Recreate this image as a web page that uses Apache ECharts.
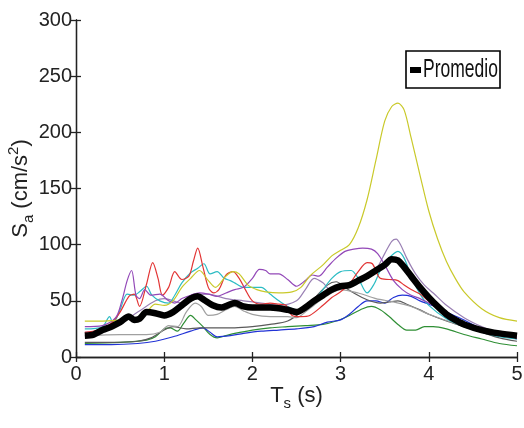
<!DOCTYPE html>
<html>
<head>
<meta charset="utf-8">
<script src="https://cdn.jsdelivr.net/npm/echarts@6/dist/echarts.min.js"></script>
<style>
  html, body { margin: 0; padding: 0; background: #fff; }
  #chart { width: 524px; height: 428px; }
</style>
</head>
<body>
<div id="chart"></div>
<script>
// Spectral acceleration Sa (cm/s^2) against period Ts (s): individual records and their mean.
const xTicks = [0, 1, 2, 3, 4, 5];
const yTicks = [0, 50, 100, 150, 200, 250, 300];

const recYellow = [[0.1,32],[0.3,32],[0.5,33],[0.6,36],[0.7,34],[0.8,40],[0.9,47],[1.0,46],[1.1,50],[1.2,62],[1.3,70],[1.4,77],[1.5,68],[1.58,62],[1.7,72],[1.78,76],[1.85,74],[1.95,64],[2.05,60],[2.15,58],[2.3,57],[2.45,58],[2.55,62],[2.65,72],[2.8,82],[2.9,90],[3.0,95],[3.1,100],[3.2,115],[3.3,140],[3.4,175],[3.5,210],[3.58,223],[3.65,226],[3.72,220],[3.8,195],[3.9,162],[4.0,130],[4.1,105],[4.2,85],[4.3,70],[4.4,58],[4.6,43],[4.8,35],[5.0,32]];
const recPurple = [[0.1,27],[0.3,28],[0.45,35],[0.52,50],[0.58,68],[0.63,77],[0.68,55],[0.72,52],[0.78,60],[0.85,55],[0.95,56],[1.05,50],[1.12,48],[1.2,52],[1.3,55],[1.4,57],[1.5,56],[1.6,54],[1.7,57],[1.8,60],[1.9,62],[2.0,70],[2.08,78],[2.15,77],[2.2,74],[2.3,74],[2.4,69],[2.5,63],[2.6,68],[2.68,73],[2.75,72],[2.85,80],[2.95,88],[3.05,94],[3.15,96],[3.25,97],[3.35,96],[3.42,92],[3.5,82],[3.6,68],[3.7,60],[3.8,55],[3.9,52],[4.0,48],[4.2,39],[4.4,31],[4.6,25],[4.8,20],[5.0,17]];
const recLavender = [[0.1,22],[0.3,24],[0.5,30],[0.7,40],[0.9,50],[1.0,52],[1.2,48],[1.35,55],[1.5,56],[1.7,52],[1.9,50],[2.1,48],[2.3,46],[2.5,50],[2.6,60],[2.7,70],[2.8,66],[2.88,60],[2.95,62],[3.1,66],[3.25,70],[3.4,78],[3.5,92],[3.58,103],[3.63,105],[3.68,100],[3.75,88],[3.85,74],[3.95,64],[4.05,57],[4.2,46],[4.4,35],[4.6,27],[4.8,21],[5.0,18]];
const recRed = [[0.1,22],[0.25,24],[0.4,30],[0.5,40],[0.6,54],[0.66,56],[0.72,45],[0.8,65],[0.87,84],[0.93,70],[0.98,55],[1.05,62],[1.12,76],[1.2,69],[1.28,72],[1.33,85],[1.38,97],[1.44,80],[1.5,62],[1.56,57],[1.62,60],[1.7,73],[1.78,76],[1.85,70],[1.92,60],[2.0,50],[2.1,47],[2.2,48],[2.3,47],[2.38,46],[2.45,37],[2.55,36],[2.65,37],[2.8,46],[2.9,53],[3.0,58],[3.1,65],[3.2,76],[3.3,84],[3.36,83],[3.45,70],[3.55,69],[3.65,68],[3.72,64],[3.8,60],[3.9,56],[4.0,50],[4.2,40],[4.4,30],[4.6,24],[4.8,20],[5.0,17]];
const recCyan = [[0.1,25],[0.3,27],[0.38,36],[0.42,30],[0.5,42],[0.58,56],[0.66,55],[0.72,58],[0.8,63],[0.86,55],[0.95,50],[1.05,48],[1.12,55],[1.2,66],[1.3,75],[1.38,79],[1.45,83],[1.52,74],[1.6,76],[1.68,70],[1.75,68],[1.82,65],[1.9,62],[2.0,62],[2.1,62],[2.2,56],[2.3,50],[2.4,45],[2.5,42],[2.6,44],[2.7,50],[2.8,60],[2.9,70],[3.0,76],[3.12,77],[3.2,70],[3.3,57],[3.38,65],[3.45,77],[3.55,88],[3.65,94],[3.72,88],[3.8,72],[3.9,56],[4.0,46],[4.2,34],[4.4,27],[4.6,22],[4.8,18],[5.0,16]];
const recGrayDark = [[0.1,13],[0.4,13],[0.7,14],[0.85,17],[1.0,24],[1.1,27],[1.25,25],[1.4,26],[1.6,26],[1.8,26],[2.0,27],[2.2,29],[2.4,32],[2.55,40],[2.7,52],[2.85,64],[2.95,67],[3.05,62],[3.15,57],[3.3,51],[3.45,48],[3.55,49],[3.65,50],[3.75,47],[3.9,42],[4.0,38],[4.2,32],[4.4,27],[4.6,22],[4.8,17],[5.0,14]];
const recGrayLight = [[0.1,19],[0.5,20],[0.8,20],[0.95,22],[1.05,28],[1.15,27],[1.25,40],[1.35,48],[1.42,45],[1.5,37],[1.6,38],[1.7,42],[1.8,45],[1.9,41],[2.0,38],[2.2,36],[2.4,36],[2.5,35],[2.6,40],[2.8,52],[3.0,60],[3.2,57],[3.4,52],[3.6,49],[3.8,45],[4.0,38],[4.3,30],[4.6,24],[5.0,16]];
const recGreen = [[0.1,12],[0.5,13],[0.8,15],[0.9,18],[1.0,25],[1.07,26],[1.15,23],[1.22,30],[1.3,37],[1.36,33],[1.44,27],[1.52,20],[1.6,17],[1.7,19],[1.8,21],[2.0,24],[2.2,26],[2.4,27],[2.6,28],[2.8,29],[2.95,32],[3.1,37],[3.25,43],[3.35,45],[3.45,42],[3.55,36],[3.65,29],[3.75,24],[3.85,24],[3.95,27],[4.05,27],[4.2,25],[4.4,20],[4.6,16],[4.8,12],[5.0,10]];
const recBlue = [[0.1,11],[0.4,11],[0.7,12],[0.9,14],[1.1,18],[1.3,23],[1.44,26],[1.52,22],[1.6,18],[1.75,19],[1.9,21],[2.1,23],[2.3,24],[2.5,25],[2.7,27],[2.85,31],[3.0,33],[3.1,38],[3.2,45],[3.3,50],[3.4,50],[3.5,48],[3.6,53],[3.7,55],[3.8,54],[3.9,50],[4.0,47],[4.1,44],[4.2,40],[4.4,33],[4.6,25],[4.8,20],[5.0,16]];
const promedio = [[0.1,19],[0.2,20],[0.3,24],[0.4,27],[0.5,31],[0.6,36],[0.66,33],[0.72,34],[0.8,40],[0.9,39],[1.0,37],[1.1,40],[1.2,46],[1.3,52],[1.38,54],[1.45,51],[1.55,46],[1.65,44],[1.72,46],[1.8,48],[1.9,45],[2.0,44],[2.2,44],[2.4,42],[2.5,40],[2.6,44],[2.7,50],[2.8,55],[2.9,60],[3.0,63],[3.1,64],[3.2,68],[3.3,72],[3.4,77],[3.5,82],[3.58,87],[3.65,86],[3.7,82],[3.8,72],[3.9,62],[4.0,53],[4.1,45],[4.2,38],[4.3,33],[4.4,29],[4.6,24],[4.8,21],[5.0,19]];

const FONT = '"Liberation Sans", Arial, sans-serif';
const INK = '#222';

const records = [
  { data: recGreen, color: '#2f8f35' },
  { data: recBlue, color: '#2233d6' },
  { data: recGrayDark, color: '#5a5a5a' },
  { data: recGrayLight, color: '#a0a0a0' },
  { data: recLavender, color: '#9a80b4' },
  { data: recCyan, color: '#2cbcc4' },
  { data: recRed, color: '#e23434' },
  { data: recPurple, color: '#9348b8' },
  { data: recYellow, color: '#c9c92a' }
];

const series = records.map(r => ({
  type: 'line',
  data: r.data,
  showSymbol: false,
  smooth: 0.3,
  lineStyle: { color: r.color, width: 1.2 },
  itemStyle: { color: r.color },
  emphasis: { disabled: true },
  silent: true,
  z: 2
}));

series.push({
  name: 'Promedio',
  type: 'line',
  data: promedio,
  showSymbol: false,
  smooth: 0.3,
  lineStyle: { color: '#000', width: 6.5 },
  itemStyle: { color: '#000' },
  emphasis: { disabled: true },
  silent: true,
  z: 5
});

const axisLine = { show: true, lineStyle: { color: INK, width: 1.3 } };
const tick = { show: true, inside: true, length: 5, lineStyle: { color: INK, width: 1.3 } };
const labelStyle = { fontFamily: FONT, fontSize: 20, color: INK };
const nameRich = {
  m: { fontFamily: FONT, fontSize: 22, color: INK, lineHeight: 30 },
  sub: { fontFamily: FONT, fontSize: 15, color: INK, lineHeight: 14, verticalAlign: 'bottom' },
  sup: { fontFamily: FONT, fontSize: 15, color: INK, lineHeight: 14, verticalAlign: 'top' }
};

const chart = echarts.init(document.getElementById('chart'), null, { renderer: 'canvas' });
chart.setOption({
  animation: false,
  backgroundColor: '#fff',
  grid: { left: 76, right: 7, top: 20, bottom: 71, containLabel: false, outerBoundsMode: 'none' },
  // Boxed legend entry for the mean curve (condensed lettering)
  graphic: [{
    type: 'group',
    x: 406,
    y: 51,
    z: 100,
    children: [
      { type: 'rect', shape: { x: 0, y: 0, width: 94, height: 37 }, style: { fill: '#fff', stroke: '#000', lineWidth: 1.6 } },
      { type: 'rect', shape: { x: 4, y: 16, width: 11, height: 6 }, style: { fill: '#000' } },
      {
        type: 'text', x: 17, y: 19.5, scaleX: 0.7,
        style: { text: 'Promedio', fontFamily: FONT, fontSize: 25, fill: '#111', verticalAlign: 'middle', align: 'left' }
      }
    ]
  }],
  xAxis: [
    {
      type: 'value', min: xTicks[0], max: xTicks[xTicks.length - 1], interval: 1,
      position: 'bottom',
      name: '{m|T}{sub|s}{m| (s)}',
      nameLocation: 'middle', nameGap: 24, nameMoveOverlap: false,
      nameTextStyle: { rich: nameRich },
      axisLine, axisTick: tick,
      axisLabel: Object.assign({ margin: 7 }, labelStyle),
      splitLine: { show: false }
    },
    {
      type: 'value', min: xTicks[0], max: xTicks[xTicks.length - 1], interval: 1,
      position: 'top',
      axisLine, axisTick: tick, axisLabel: { show: false }, splitLine: { show: false }
    }
  ],
  yAxis: [
    {
      type: 'value', min: yTicks[0], max: yTicks[yTicks.length - 1], interval: 50,
      position: 'left',
      name: '{m|S}{sub|a}{m| (cm/s}{sup|2}{m|)}',
      nameLocation: 'middle', nameGap: 40, nameRotate: 90, nameMoveOverlap: false,
      nameTextStyle: { rich: nameRich },
      axisLine, axisTick: tick,
      axisLabel: Object.assign({ margin: 4 }, labelStyle),
      splitLine: { show: false }
    },
    {
      type: 'value', min: yTicks[0], max: yTicks[yTicks.length - 1], interval: 50,
      position: 'right',
      axisLine, axisTick: tick, axisLabel: { show: false }, splitLine: { show: false }
    }
  ],
  series
});
</script>
</body>
</html>
